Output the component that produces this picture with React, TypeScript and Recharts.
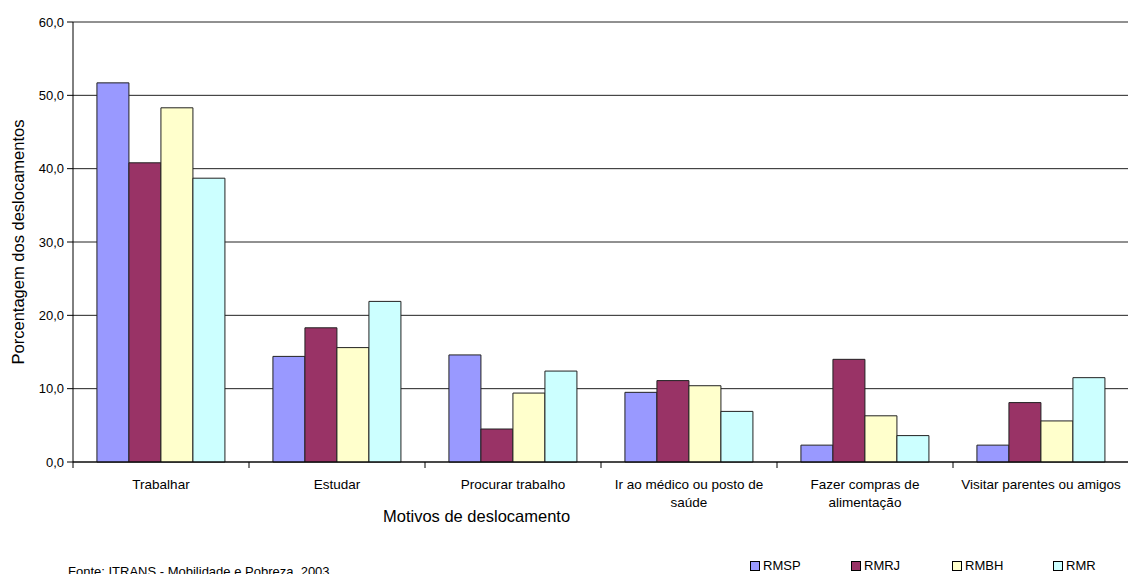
import { BarChart, Bar, XAxis, YAxis, CartesianGrid, Label } from "recharts"

const categories = [
  "Trabalhar",
  "Estudar",
  "Procurar trabalho",
  "Ir ao médico ou posto de\nsaúde",
  "Fazer compras de\nalimentação",
  "Visitar parentes ou amigos",
]

const rmsp = [51.7, 14.4, 14.6, 9.5, 2.3, 2.3]
const rmrj = [40.8, 18.3, 4.5, 11.1, 14.0, 8.1]
const rmbh = [48.3, 15.6, 9.4, 10.4, 6.3, 5.6]
const rmr = [38.7, 21.9, 12.4, 6.9, 3.6, 11.5]

const yTicks = [0, 10, 20, 30, 40, 50, 60]

const series = [
  { key: "RMSP", color: "#9999ff", values: rmsp },
  { key: "RMRJ", color: "#993366", values: rmrj },
  { key: "RMBH", color: "#ffffcc", values: rmbh },
  { key: "RMR", color: "#ccffff", values: rmr },
]

const data = categories.map((name, i) => {
  const row: Record<string, string | number> = { name }
  series.forEach((s) => (row[s.key] = s.values[i]))
  return row
})

const FONT = "'Liberation Sans', Arial, sans-serif"
const CHART_W = 1130
const CHART_H = 574
const LEFT = 73
const RIGHT = 1
const BAND = (CHART_W - LEFT - RIGHT) / categories.length

// category label, possibly two lines, plus a boundary tick on the left of each band
function CategoryTick(props: any) {
  const { x, y, payload } = props
  const lines = String(payload.value).split("\n")
  const left = x - BAND / 2
  return (
    <g>
      <line x1={left} y1={y} x2={left} y2={y + 6} stroke="#000" strokeWidth={1} />
      {lines.map((line, i) => (
        <text
          key={i}
          x={x}
          y={y + 27 + i * 18}
          textAnchor="middle"
          fontFamily={FONT}
          fontSize={13.5}
          fill="#000"
        >
          {line}
        </text>
      ))}
    </g>
  )
}

export default function App() {
  return (
    <div
      style={{
        position: "fixed",
        left: 0,
        top: 0,
        width: 1128,
        height: 574,
        overflow: "hidden",
        background: "#fff",
        fontFamily: FONT,
      }}
    >
      <BarChart
        width={CHART_W}
        height={CHART_H}
        data={data}
        margin={{ top: 22, right: RIGHT, left: 0, bottom: 0 }}
        barCategoryGap="13.6%"
        barGap={0}
      >
        <CartesianGrid vertical={false} stroke="#222" strokeWidth={1} />
        <XAxis
          dataKey="name"
          height={112}
          tickLine={false}
          tickSize={0}
          tickMargin={0}
          axisLine={{ stroke: "#000" }}
          tick={<CategoryTick />}
          interval={0}
        />
        <YAxis
          width={LEFT}
          domain={[0, 60]}
          ticks={yTicks}
          tickSize={6}
          tickMargin={3}
          axisLine={{ stroke: "#000" }}
          tickLine={{ stroke: "#000" }}
          tick={{ fontSize: 13, fill: "#000", fontFamily: FONT }}
          tickFormatter={(v: number) => v.toFixed(1).replace(".", ",")}
        >
          <Label
            value="Porcentagem dos deslocamentos"
            angle={-90}
            position="center"
            dx={-18}
            style={{ fontSize: 16.5, fill: "#000", fontFamily: FONT }}
          />
        </YAxis>
        {series.map((s) => (
          <Bar
            key={s.key}
            dataKey={s.key}
            fill={s.color}
            stroke="#222"
            strokeWidth={1}
            isAnimationActive={false}
          />
        ))}
      </BarChart>

      <div
        style={{
          position: "absolute",
          left: 383,
          top: 507,
          fontSize: 16.5,
          color: "#000",
          whiteSpace: "nowrap",
        }}
      >
        Motivos de deslocamento
      </div>

      <div
        style={{
          position: "absolute",
          left: 68,
          top: 564,
          fontSize: 13,
          color: "#000",
          whiteSpace: "nowrap",
        }}
      >
        Fonte: ITRANS - Mobilidade e Pobreza, 2003
      </div>

      {series.map((s, i) => (
        <div
          key={s.key}
          style={{
            position: "absolute",
            left: 750 + i * 101,
            top: 558,
            height: 15,
            lineHeight: "15px",
            display: "flex",
            alignItems: "center",
            fontSize: 13,
            color: "#000",
          }}
        >
          <span
            style={{
              display: "inline-block",
              width: 8,
              height: 8,
              background: s.color,
              border: "1px solid #000",
              marginRight: 3,
            }}
          />
          {s.key}
        </div>
      ))}
    </div>
  )
}
